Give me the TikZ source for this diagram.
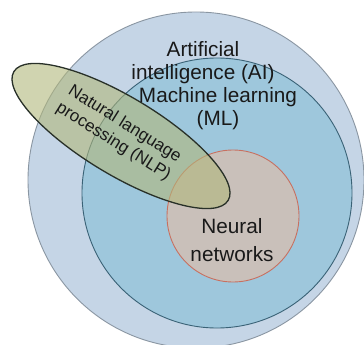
\documentclass[tikz,border=0pt]{standalone}
\usepackage{xcolor}
\usepackage{fontspec}
\setmainfont{Liberation Sans}
\usepackage{tikz}
\usetikzlibrary{shapes.geometric}

\definecolor{aifill}{RGB}{197,213,230}
\definecolor{aiedge}{RGB}{138,150,162}
\definecolor{mlfill}{RGB}{158,199,220}
\definecolor{mledge}{RGB}{58,98,118}
\definecolor{nnfill}{RGB}{201,192,186}
\definecolor{nnedge}{RGB}{200,112,96}
\definecolor{nlpfill}{RGB}{177,183,123}
\definecolor{nlpedge}{RGB}{40,48,40}
\definecolor{labeltext}{RGB}{25,25,25}

\begin{document}
\begin{tikzpicture}[
    x=1pt, y=-1pt,
    aicircle/.style={circle, draw=aiedge, fill=aifill, line width=0.9pt, minimum size=336pt, inner sep=0pt},
    mlcircle/.style={circle, draw=mledge, fill=mlfill, line width=0.9pt, minimum size=270pt, inner sep=0pt},
    nncircle/.style={circle, draw=nnedge, fill=nnfill, line width=0.9pt, minimum size=132pt, inner sep=0pt},
    nlpellipse/.style={ellipse, draw=nlpedge, fill=nlpfill, fill opacity=0.6, draw opacity=1, line width=1.3pt, minimum width=250pt, minimum height=78pt, inner sep=0pt, rotate=-31},
    biglabel/.style={align=center, text=labeltext, font=\fontsize{20.75}{23}\selectfont},
    nlplabel/.style={align=center, text=labeltext, font=\fontsize{17}{21}\selectfont, rotate=-32}
]
\useasboundingbox (0,0) rectangle (364,345);
\clip (0,0) rectangle (364,345);

% Nested fields
\node[aicircle] (ai) at (196,180) {};
\node[mlcircle] (ml) at (217,193) {};
\node[nncircle] (nn) at (233,216) {};

% NLP overlaps all of them
\node[nlpellipse] (nlp) at (121,136) {};

% Labels
\node[biglabel] (ailabel) at (203,63) {Artificial\\intelligence (AI)};
\node[biglabel] (mllabel) at (218,109) {Machine learning\\(ML)};
\node[biglabel, font=\fontsize{20.75}{28}\selectfont] (nnlabel) at (232,240) {Neural\\networks};
\node[nlplabel] (nlplabel) at (119,133) {Natural language\\processing (NLP)};

\end{tikzpicture}
\end{document}
